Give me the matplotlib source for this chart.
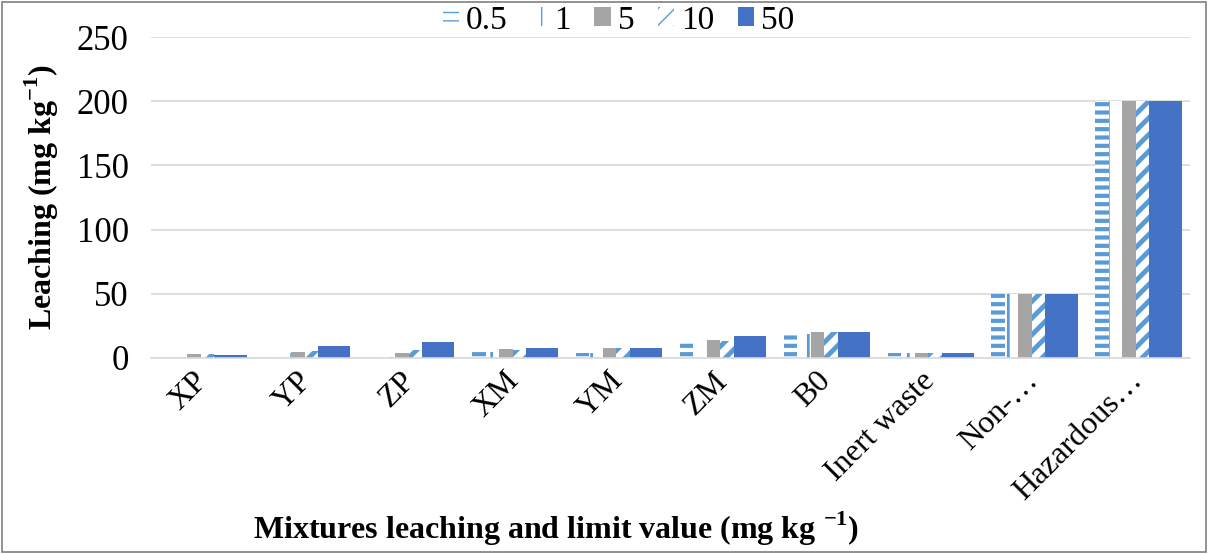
import matplotlib
matplotlib.use("Agg")
import matplotlib.pyplot as plt
from matplotlib.patches import Rectangle, Patch
from matplotlib.transforms import ScaledTranslation
import numpy as np

# Categories and leaching values (mg kg-1) for each concentration series
categories = ["XP", "YP", "ZP", "XM", "YM", "ZM", "B0", "Inert waste",
              "Non-\u2026", "Hazardous\u2026"]
series_names = ["0.5", "1", "5", "10", "50"]
s_05 = [0.0, 0.0, 0.0, 5.0, 4.0, 12.0, 19.0, 4.0, 50, 200]
s_1 = [0.0, 4.0, 1.0, 4.5, 4.0, 12.0, 19.0, 4.0, 50, 200]
s_5 = [3.0, 4.5, 4.0, 6.8, 7.5, 13.8, 20.0, 4.0, 50, 200]
s_10 = [3.0, 5.0, 6.0, 6.0, 8.0, 13.5, 20.0, 4.0, 50, 200]
s_50 = [2.5, 9.0, 12.7, 8.0, 8.0, 17.4, 20.0, 4.0, 50, 200]
y_ticks = [0, 50, 100, 150, 200, 250]

plt.rcParams["font.family"] = ["Liberation Serif", "DejaVu Serif"]
plt.rcParams["mathtext.fontset"] = "custom"
plt.rcParams["mathtext.rm"] = "Liberation Serif"
plt.rcParams["mathtext.bf"] = "Liberation Serif:bold"

LIGHT = "#5B9BD5"
GRAY = "#A5A5A5"
DARK = "#4472C4"

fig = plt.figure(figsize=(12.08, 5.54), dpi=100)
ax = fig.add_axes([0.125, 0.354, 0.86, 0.579])

x = np.arange(len(categories))
slot = 0.13
# four narrow patterned bars followed by a wider solid bar
styles = [
    dict(vals=s_05, fc="white", ec=LIGHT, hatch="--", hlw=3.0),
    dict(vals=s_1, fc="white", ec=LIGHT, hatch="|", hlw=2.0),
    dict(vals=s_5, fc=GRAY, ec=GRAY, hatch=None, hlw=1.0),
    dict(vals=s_10, fc="white", ec=LIGHT, hatch="//", hlw=3.5),
]
left0 = -0.41
handles = []
for i, st in enumerate(styles):
    with plt.rc_context({"hatch.linewidth": st["hlw"]}):
        ax.bar(x + left0 + i * slot, st["vals"], width=slot, align="edge",
               facecolor=st["fc"], edgecolor=st["ec"], hatch=st["hatch"],
               linewidth=0)
        handles.append(Patch(facecolor=st["fc"], edgecolor=st["ec"],
                             hatch=st["hatch"], linewidth=0))
w50 = 0.31
ax.bar(x + left0 + 4 * slot, s_50, width=w50, align="edge",
       facecolor=DARK, edgecolor=DARK, linewidth=0)
handles.append(Patch(facecolor=DARK, edgecolor=DARK, linewidth=0))

ax.set_xlim(-0.5, len(categories) - 0.5)
ax.set_ylim(0, 250)
ax.set_yticks(y_ticks)
ax.yaxis.grid(True, color="#D9D9D9", linewidth=1.2)
ax.set_axisbelow(True)
for side in ["top", "right", "left"]:
    ax.spines[side].set_visible(False)
ax.spines["bottom"].set_color("#D9D9D9")
ax.spines["bottom"].set_linewidth(1.2)
ax.tick_params(axis="y", length=0, labelsize=25, pad=16)
ax.set_xticks(x)
ax.set_xticklabels(categories, rotation=45, ha="right", va="top",
                   rotation_mode="anchor", fontsize=23)
ax.tick_params(axis="x", length=0, pad=6)
shift = ScaledTranslation(-0.1, 0.0, fig.dpi_scale_trans)
for lbl in ax.get_xticklabels():
    lbl.set_transform(lbl.get_transform() + shift)

ax.set_ylabel(r"Leaching (mg kg$^{\mathbf{-1}}$)", fontsize=23,
              fontweight="bold")
ax.yaxis.set_label_coords(-0.087, 0.5)
fig.text(0.46, 0.045, r"Mixtures leaching and limit value (mg kg $^{\mathbf{-1}}$)",
         ha="center", va="center", fontsize=23, fontweight="bold")

fig.legend(handles, series_names, loc="upper center", ncol=5,
           bbox_to_anchor=(0.512, 1.045), frameon=False, fontsize=24,
           handlelength=0.5, handleheight=0.5, handletextpad=0.2,
           columnspacing=0.7)

fig.patches.append(Rectangle((0.002, 0.004), 0.996, 0.992, transform=fig.transFigure,
                             fill=False, edgecolor="#7F7F7F", linewidth=1.2))

fig.savefig("out.png", dpi=100)
